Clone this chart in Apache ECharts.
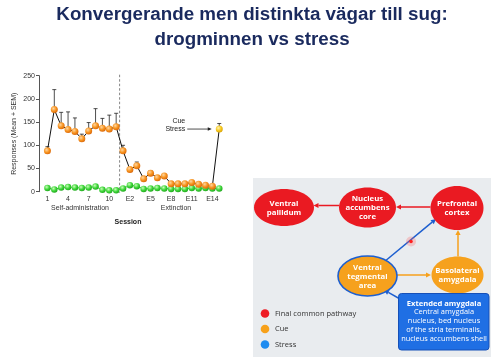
<!DOCTYPE html>
<html><head><meta charset="utf-8">
<script src="https://cdn.jsdelivr.net/npm/echarts@6/dist/echarts.min.js"></script>
<style>html,body{margin:0;padding:0;background:#fff}#c{width:496px;height:361px}</style>
</head><body><div id="c"></div>
<script>
// ---- data ----
const sessions = ['1','2','3','4','5','6','7','8','9','10','11',
  'E1','E2','E3','E4','E5','E6','E7','E8','E9','E10','E11','E12','E13','E14','Test'];
const drugValues = [88,177,142,134,130,114,131,142,137,135,140,
  88,48,56,28,40,30,34,17,17,17,20,16,14,12,135];
const drugUpper = [97,220,171,172,159,124,149,179,158,165,169,
  100,52,64,31,45,33,38,20,19,19,23,20,16,14,147];
const controlValues = [8,5,9,10,9,8,9,11,4,3,3,
  7,14,12,6,7,8,7,6,6,6,8,7,8,7,7];
const yMin = 0, yMax = 250, yStep = 50;
const testIndex = 25;
const lastSelfAdminIndex = 10;

const FONT = '"Liberation Sans", Arial, sans-serif';
const DFONT = '"Open Sans", "Noto Sans", sans-serif';

function sphere(light, mid, dark){
  return {type:'radial', x:0.38, y:0.35, r:0.7,
    colorStops:[{offset:0,color:light},{offset:0.55,color:mid},{offset:1,color:dark}]};
}
const orangeBall = sphere('#ffd6a0','#f7931e','#d8650a');
const yellowBall = sphere('#fff3b0','#f6c81e','#d9a206');
const greenBall = sphere('#c8ffb8','#3fd63a','#1ea51c');

const drugData = drugValues.map((v,i)=> i===testIndex ? {value:v,itemStyle:{color:yellowBall}} : v);
const errData = drugValues.map((v,i)=>[i, v, drugUpper[i]]);

// ---- diagram helpers (illustration) ----
const RED='#ea1a22', ORANGE='#f6a11d', BLUE='#1d5fd0';
function arrow(x1,y1,x2,y2,color,w){
  const dx=x2-x1, dy=y2-y1, L=Math.hypot(dx,dy), ux=dx/L, uy=dy/L;
  const hl=5, hw=2.6;
  const bx=x2-ux*hl, by=y2-uy*hl;
  return [
    {type:'line', shape:{x1,y1,x2:bx,y2:by}, style:{stroke:color,lineWidth:w}, z:3},
    {type:'polygon', shape:{points:[[x2,y2],[bx-uy*hw,by+ux*hw],[bx+uy*hw,by-ux*hw]]}, style:{fill:color}, z:3}
  ];
}
function node(cx,cy,rx,ry,fill,text,stroke){
  return [
    {type:'ellipse', shape:{cx,cy,rx,ry}, style:{fill, stroke:stroke||null, lineWidth:stroke?1.6:0}, z:4},
    {type:'text', x:cx, y:cy+0.5, z:5, style:{text, fill:'#fff', fontSize:7.8, fontWeight:'bold', fontFamily:DFONT,
      lineHeight:9, align:'center', verticalAlign:'middle', textAlign:'center', textVerticalAlign:'middle'}}
  ];
}
function txt(x,y,text,size,opts){
  return Object.assign({type:'text', x, y, z:6, style:Object.assign({text, fontSize:size, fontFamily:FONT, fill:'#333',
    align:'center', verticalAlign:'middle', textAlign:'center', textVerticalAlign:'middle'}, opts||{})});
}

const graphics = [
  // title
  txt(252,15,'Konvergerande men distinkta vägar till sug:',18.8,{fontWeight:'bold',fill:'#1a2a5e'}),
  txt(252,40,'drogminnen vs stress',18.8,{fontWeight:'bold',fill:'#1a2a5e'}),
  // chart extra labels
  txt(80,208.5,'Self-administration',7),
  txt(176,208.5,'Extinction',7),
  txt(128,222,'Session',7,{fontWeight:'bold',fill:'#222'}),
  // diagram panel
  {type:'rect', shape:{x:253,y:178,width:238,height:179}, style:{fill:'#e9ecef'}, z:1},
  ...node(284,207.5,30,18.5,RED,'Ventral\npallidum'),
  ...node(367.5,207.5,28.5,20,RED,'Nucleus\naccumbens\ncore'),
  ...node(457,208,26.5,22,RED,'Prefrontal\ncortex'),
  ...node(367.5,276,29.5,20,ORANGE,'Ventral\ntegmental\narea',BLUE),
  ...node(457.5,275,26,18.5,ORANGE,'Basolateral\namygdala'),
  ...arrow(339,205.5,313.5,205.5,RED,1.5),
  ...arrow(430.5,207,396,207,RED,1.5),
  ...arrow(397,275,431,275,ORANGE,1.5),
  ...arrow(458,256.5,458,230,ORANGE,1.5),
  ...arrow(384,262,436,219,BLUE,1.5),
  ...arrow(400,299,384,290,BLUE,1.5),
  {type:'circle', shape:{cx:411,cy:241.5,r:5}, style:{fill:'rgba(255,80,80,0.25)'}, z:6},
  {type:'circle', shape:{cx:411,cy:241.5,r:1.8}, style:{fill:'#ff2020'}, z:7},
  // extended amygdala box
  {type:'rect', shape:{x:398.5,y:293.5,width:90.5,height:56.5,r:3}, style:{fill:'#1f6fe4',stroke:'#1650b8',lineWidth:1}, z:4},
  txt(444,303.5,'Extended amygdala',7.6,{fontFamily:DFONT,fontWeight:'bold',fill:'#fff'}),
  txt(444,325.5,'Central amygdala\nnucleus, bed nucleus\nof the stria terminalis,\nnucleus accumbens shell',7.4,{fontFamily:DFONT,fill:'#fff',lineHeight:8.8}),
  // legend
  {type:'circle', shape:{cx:265,cy:313.5,r:4.3}, style:{fill:'#ee1c25'}, z:4},
  {type:'circle', shape:{cx:265,cy:329,r:4.3}, style:{fill:'#f7a11a'}, z:4},
  {type:'circle', shape:{cx:265,cy:344.5,r:4.3}, style:{fill:'#1e8cf0'}, z:4},
  txt(275,313.5,'Final common pathway',7.5,{fontFamily:DFONT,align:'left',textAlign:'left',fill:'#333'}),
  txt(275,329,'Cue',7.5,{fontFamily:DFONT,align:'left',textAlign:'left',fill:'#333'}),
  txt(275,344.5,'Stress',7.5,{fontFamily:DFONT,align:'left',textAlign:'left',fill:'#333'})
];

const chart = echarts.init(document.getElementById('c'), null, {renderer:'canvas'});
chart.setOption({
  animation:false,
  backgroundColor:'#fff',
  grid:{left:44, right:273.3, top:75.7, bottom:169.3, containLabel:false},
  xAxis:{type:'category', data:sessions, boundaryGap:true,
    axisLine:{show:false}, axisTick:{show:false},
    axisLabel:{interval:2, fontSize:7, color:'#333', fontFamily:FONT, margin:4},
    splitLine:{show:false}},
  yAxis:{type:'value', min:yMin, max:yMax, interval:yStep, offset:5,
    name:'Responses (Mean + SEM)', nameLocation:'middle', nameGap:21, nameRotate:90,
    nameTextStyle:{fontSize:7, color:'#333', fontFamily:FONT},
    axisLine:{show:true, lineStyle:{color:'#555', width:1}},
    axisTick:{show:true, length:3, lineStyle:{color:'#555'}},
    axisLabel:{fontSize:7, color:'#333', fontFamily:FONT, margin:4},
    splitLine:{show:false}},
  graphic:graphics,
  series:[
    {type:'custom', name:'separator', z:1, silent:true,
      data:[[lastSelfAdminIndex, lastSelfAdminIndex+1]],
      renderItem(params, api){
        const a = api.coord([api.value(0), yMax]);
        const b = api.coord([api.value(1), yMin]);
        const x = (a[0]+b[0])/2;
        return {type:'line', shape:{x1:x,y1:a[1]-1,x2:x,y2:b[1]+1},
          style:{stroke:'#666', lineWidth:0.8, lineDash:[2.5,2]}};
      }},
    {type:'line', name:'control', data:controlValues, z:2,
      symbol:'circle', symbolSize:6.5, showSymbol:true, showAllSymbol:true,
      lineStyle:{color:'#3ccf3a', width:1}, itemStyle:{color:greenBall}},
    {type:'custom', name:'sem', z:3, silent:true, data:errData,
      renderItem(params, api){
        const i = api.value(0);
        const lo = api.coord([i, api.value(1)]);
        const hi = api.coord([i, api.value(2)]);
        return {type:'group', children:[
          {type:'line', shape:{x1:lo[0],y1:lo[1],x2:hi[0],y2:hi[1]}, style:{stroke:'#222',lineWidth:0.8}},
          {type:'line', shape:{x1:hi[0]-2,y1:hi[1],x2:hi[0]+2,y2:hi[1]}, style:{stroke:'#222',lineWidth:0.8}}
        ]};
      }},
    {type:'line', name:'drug', data:drugData, z:4,
      symbol:'circle', symbolSize:7, showSymbol:true, showAllSymbol:true,
      lineStyle:{color:'#111', width:1}, itemStyle:{color:orangeBall}},
    {type:'custom', name:'annotation', z:5, silent:true,
      data:[[testIndex, drugValues[testIndex]]],
      renderItem(params, api){
        const p = api.coord([api.value(0), api.value(1)]);
        const ax1 = p[0]-32, ax2 = p[0]-7.5, y = p[1];
        return {type:'group', children:[
          {type:'text', x:p[0]-34, y:y-8.3, style:{text:'Cue', fontSize:7, fontFamily:FONT, fill:'#222', align:'right', verticalAlign:'middle', textAlign:'right', textVerticalAlign:'middle'}},
          {type:'text', x:p[0]-34, y:y, style:{text:'Stress', fontSize:7, fontFamily:FONT, fill:'#222', align:'right', verticalAlign:'middle', textAlign:'right', textVerticalAlign:'middle'}},
          {type:'line', shape:{x1:ax1,y1:y,x2:ax2-3,y2:y}, style:{stroke:'#222',lineWidth:0.8}},
          {type:'polygon', shape:{points:[[ax2,y],[ax2-4,y-1.8],[ax2-4,y+1.8]]}, style:{fill:'#222'}}
        ]};
      }}
  ]
});
</script></body></html>
